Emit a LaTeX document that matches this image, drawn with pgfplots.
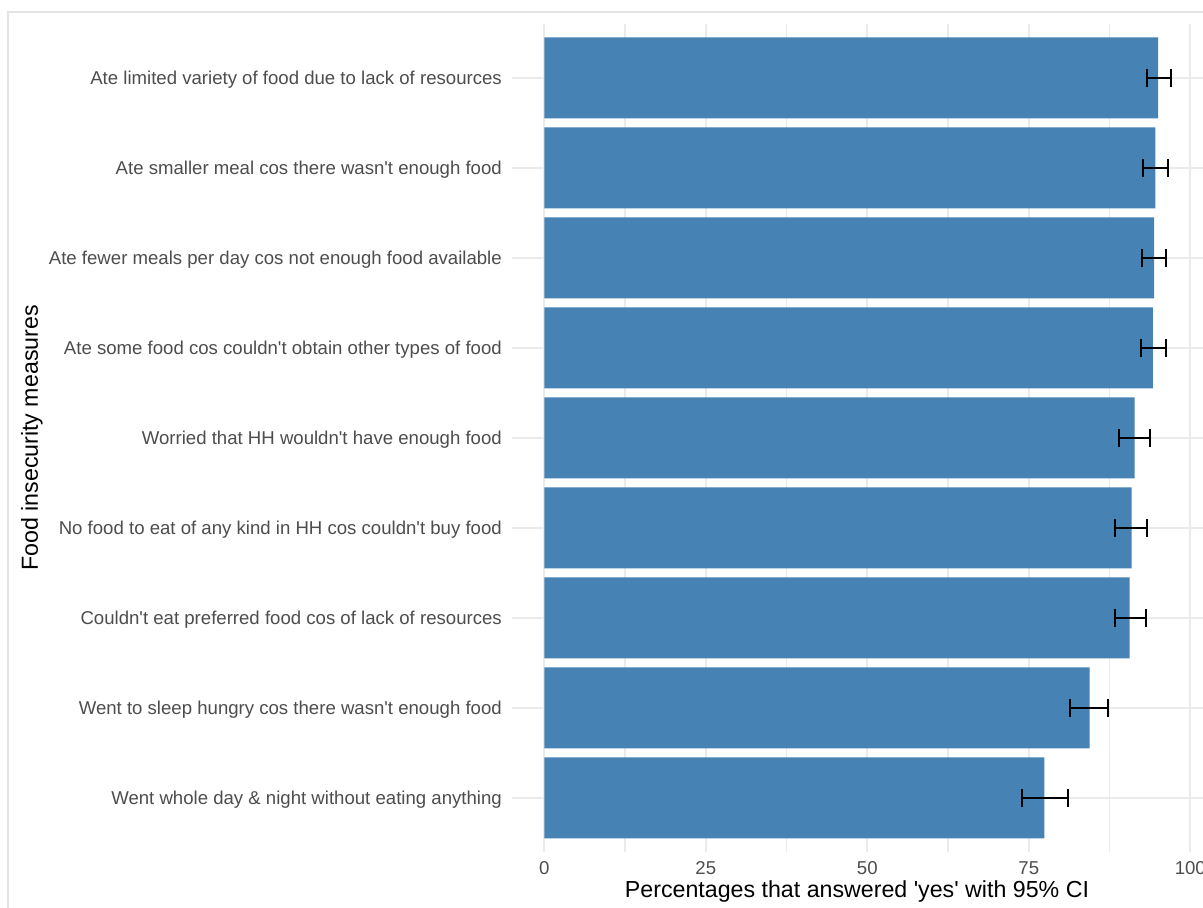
\documentclass[border=0pt]{standalone}
\usepackage{pgfplots}
\pgfplotsset{compat=1.18}
\usepackage{fontspec}
\setmainfont{Liberation Sans}[Ligatures=TeXOff]
\definecolor{steelblue}{HTML}{4682B4}
\definecolor{gridc}{HTML}{EBEBEB}
\definecolor{ticktext}{HTML}{4D4D4D}
\definecolor{framec}{HTML}{E3E3E3}
\begin{document}
\begin{tikzpicture}[x=1pt,y=1pt]
\useasboundingbox (0,0) rectangle (1203,908);
\clip (0,0) rectangle (1203,908);
\fill[white] (0,0) rectangle (1203,908);
\draw[framec, line width=2pt] (8,-20) -- (8,896) -- (1230,896);
\begin{axis}[
  at={(512pt,56pt)}, anchor=south west,
  scale only axis, width=710.6pt, height=828pt,
  xbar,
  xmin=-5, xmax=105, ymin=0.4, ymax=9.6,
  xtick={0,25,50,75,100},
  minor xtick={12.5,37.5,62.5,87.5},
  ytick={1,2,3,4,5,6,7,8,9},
  yticklabels={
    Went whole day \& night without eating anything,
    Went to sleep hungry cos there wasn't enough food,
    Couldn't eat preferred food cos of lack of resources,
    No food to eat of any kind in HH cos couldn't buy food,
    Worried that HH wouldn't have enough food,
    Ate some food cos couldn't obtain other types of food,
    Ate fewer meals per day cos not enough food available,
    Ate smaller meal cos there wasn't enough food,
    Ate limited variety of food due to lack of resources},
  xmajorgrids, xminorgrids, ymajorgrids,
  major grid style={gridc, line width=2.2pt},
  minor grid style={gridc, line width=1.6pt},
  axis line style={draw=none},
  tick style={draw=none},
  major tick length=0pt, minor tick length=0pt,
  /pgf/number format/assume math mode=true,
  yticklabel style={font=\fontsize{18.6}{22}\selectfont, text=ticktext, anchor=base east, inner sep=0pt, xshift=-10pt, yshift=-6.7pt},
  xticklabel style={font=\fontsize{18.6}{22}\selectfont, text=ticktext, anchor=base, inner sep=0pt, yshift=-22.7pt},
  xlabel={Percentages that answered 'yes' with 95\% CI},
  ylabel={Food insecurity measures},
  xlabel style={at={(axis description cs:0.4855,0)}, anchor=base, inner sep=0pt, yshift=-46pt, font=\fontsize{23.2}{27}\selectfont, text=black},
  ylabel style={at={(axis description cs:-0.6756,0.5)}, anchor=center, inner sep=0pt, font=\fontsize{23.2}{27}\selectfont, text=black},
]
\addplot[xbar, bar width=0.9, fill=steelblue, draw=none,
  error bars/.cd, x dir=both, x explicit,
  error bar style={line width=2pt, black},
  error mark options={black, line width=2pt, mark size=9pt, rotate=90}]
coordinates {
  (77.4,1) += (3.6,0) -= (3.4,0)
  (84.4,2) += (2.9,0) -= (3.0,0)
  (90.6,3) += (2.6,0) -= (2.3,0)
  (90.9,4) += (2.4,0) -= (2.5,0)
  (91.4,5) += (2.3,0) -= (2.4,0)
  (94.2,6) += (2.0,0) -= (1.9,0)
  (94.4,7) += (1.9,0) -= (1.9,0)
  (94.6,8) += (1.9,0) -= (1.9,0)
  (95.0,9) += (2.0,0) -= (1.7,0)
};
\end{axis}
\end{tikzpicture}
\end{document}
